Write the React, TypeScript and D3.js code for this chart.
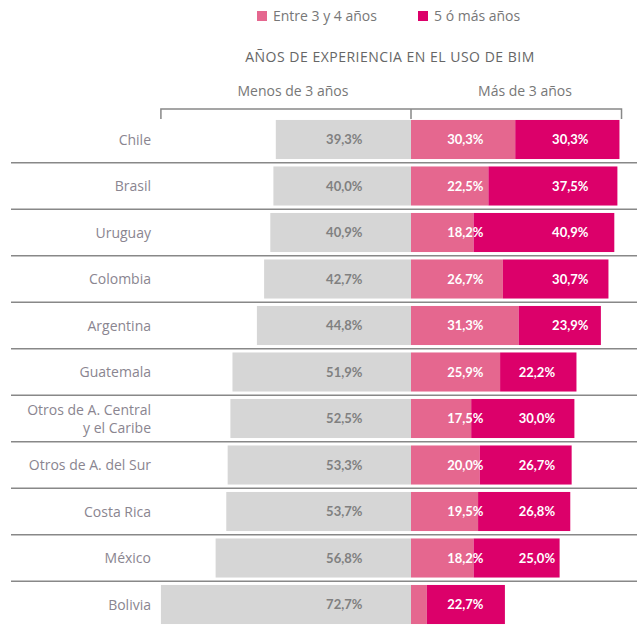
import * as d3 from 'd3';

// Chart data
const countries = [
  'Chile',
  'Brasil',
  'Uruguay',
  'Colombia',
  'Argentina',
  'Guatemala',
  'Otros de A. Central|y el Caribe',
  'Otros de A. del Sur',
  'Costa Rica',
  'México',
  'Bolivia',
];
const menos3 = [39.3, 40.0, 40.9, 42.7, 44.8, 51.9, 52.5, 53.3, 53.7, 56.8, 72.7];
const entre3y4 = [30.3, 22.5, 18.2, 26.7, 31.3, 25.9, 17.5, 20.0, 19.5, 18.2, 4.6];
const cincoOMas = [30.3, 37.5, 40.9, 30.7, 23.9, 22.2, 30.0, 26.7, 26.8, 25.0, 22.7];
const showPinkLabel = [true, true, true, true, true, true, true, true, true, true, false];

const legendLabels = ['Entre 3 y 4 años', '5 ó más años'];
const title = 'AÑOS DE EXPERIENCIA EN EL USO DE BIM';
const sideLabels = ['Menos de 3 años', 'Más de 3 años'];

const GRAY = '#d6d6d6';
const PINK = '#e5678f';
const MAGENTA = '#dc006a';
const FONT = '"Open Sans", Lato, sans-serif';
const NUM_FONT = 'Lato, "Open Sans", sans-serif';

const fmt = (v: number) => v.toFixed(1).replace('.', ',') + '%';

export default function App() {
  const width = 637;
  const height = 625;

  // centre line of the diverging bars
  const xScale = d3.scaleLinear().domain([0, 100]).range([411, 755]);
  const leftX = (v: number) => 2 * xScale(0) - xScale(v);

  const yScale = d3
    .scaleBand()
    .domain(countries)
    .range([116.25, 627.75])
    .paddingInner(0.16)
    .paddingOuter(0.08);

  const step = yScale.step();
  const bw = yScale.bandwidth();

  // label slots (the original places them at a few fixed spots)
  const grayLabelX = leftX(19.4);
  const pinkLabelX = xScale(15.8);
  const magLabelX = (total: number, i: number) => {
    if (!showPinkLabel[i]) return xScale(15.8);
    return total >= 50 ? xScale(46.3) : xScale(36.6);
  };

  const bracketY = 109;
  const bracketLeft = leftX(72.7);
  const bracketRight = xScale(61.2);

  return (
    <svg
      width={width}
      height={height}
      style={{ position: 'absolute', left: 0, top: 0, background: '#fff' }}
      fontFamily={FONT}
    >
      {/* legend */}
      <rect x={257} y={11} width={10} height={10} fill={PINK} />
      <text x={273} y={21} fontSize={14} fill='#777'>
        {legendLabels[0]}
      </text>
      <rect x={418} y={11} width={10} height={10} fill={MAGENTA} />
      <text x={434} y={21} fontSize={14} fill='#777'>
        {legendLabels[1]}
      </text>

      {/* title */}
      <text x={390} y={62} textAnchor='middle' fontSize={14} letterSpacing={0.5} fill='#666'>
        {title}
      </text>

      {/* side headers */}
      <text x={293} y={96} textAnchor='middle' fontSize={14} fill='#777'>
        {sideLabels[0]}
      </text>
      <text x={525} y={96} textAnchor='middle' fontSize={14} fill='#777'>
        {sideLabels[1]}
      </text>

      {/* bracket */}
      <path
        d={`M${bracketLeft},${bracketY + 10}V${bracketY}H${bracketRight}V${bracketY + 10}M${xScale(0)},${bracketY}V${bracketY + 10}`}
        fill='none'
        stroke='#888'
        strokeWidth={1.5}
      />

      {countries.map((c, i) => {
        const y = yScale(c) as number;
        const cy = y + bw / 2;
        const lines = c.split('|');
        const total = entre3y4[i] + cincoOMas[i];
        return (
          <g key={c}>
            {/* separator line */}
            {i < countries.length - 1 && (
              <line
                x1={11}
                x2={width}
                y1={y + bw + (step - bw) / 2}
                y2={y + bw + (step - bw) / 2}
                stroke='#888'
                strokeWidth={1.5}
              />
            )}
            {/* country label */}
            {lines.map((l, k) => (
              <text
                key={k}
                x={151}
                y={cy + 5 + (k - (lines.length - 1) / 2) * 18}
                textAnchor='end'
                fontSize={14}
                fill='#8a8590'
              >
                {l}
              </text>
            ))}
            {/* bars */}
            <rect x={leftX(menos3[i])} y={y} width={xScale(0) - leftX(menos3[i])} height={bw} fill={GRAY} />
            <rect x={xScale(0)} y={y} width={xScale(entre3y4[i]) - xScale(0)} height={bw} fill={PINK} />
            <rect
              x={xScale(entre3y4[i])}
              y={y}
              width={xScale(total) - xScale(entre3y4[i])}
              height={bw}
              fill={MAGENTA}
            />
            {/* values */}
            <g fontFamily={NUM_FONT} fontSize={13} fontWeight={700}>
              <text x={grayLabelX} y={cy + 4.5} textAnchor='middle' fill='#808080'>
                {fmt(menos3[i])}
              </text>
              {showPinkLabel[i] && (
                <text x={pinkLabelX} y={cy + 4.5} textAnchor='middle' fill='#fff'>
                  {fmt(entre3y4[i])}
                </text>
              )}
              <text x={magLabelX(total, i)} y={cy + 4.5} textAnchor='middle' fill='#fff'>
                {fmt(cincoOMas[i])}
              </text>
            </g>
          </g>
        );
      })}
    </svg>
  );
}
